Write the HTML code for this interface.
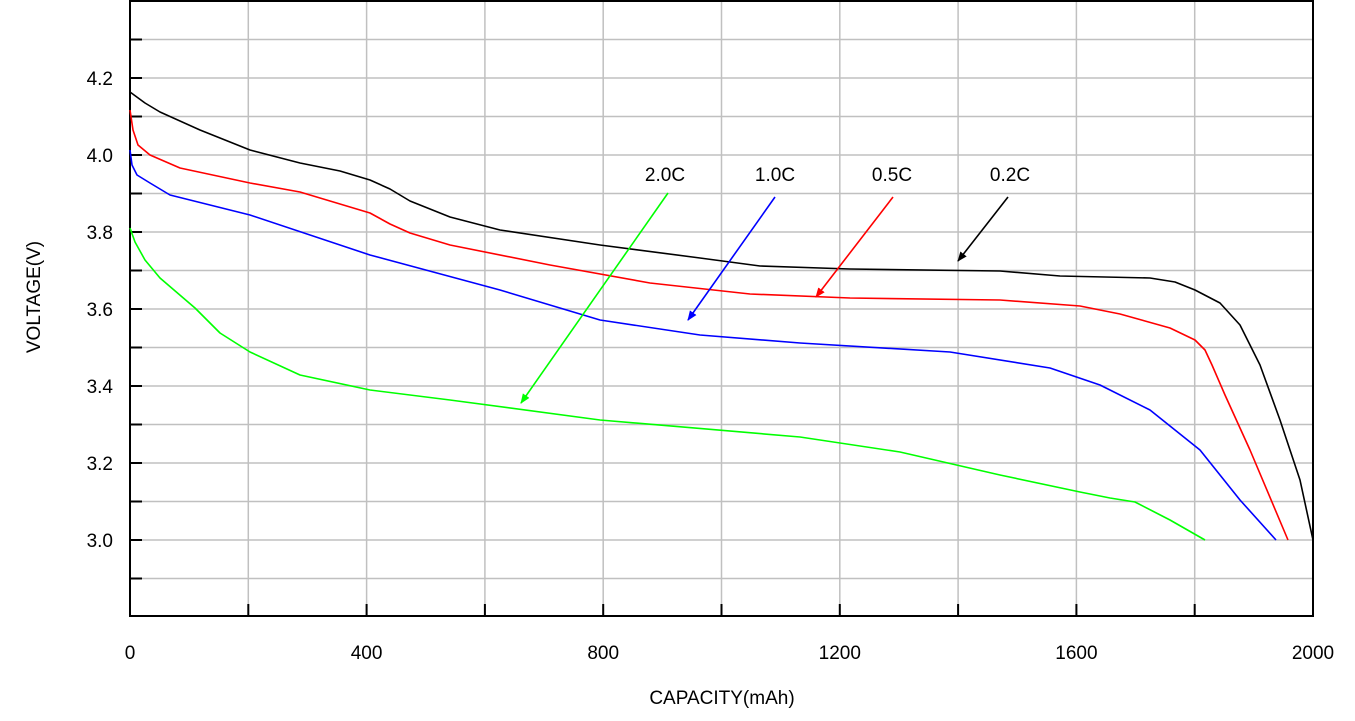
<!DOCTYPE html>
<html><head><meta charset="utf-8"><style>body{margin:0;background:#fff}svg{display:block}text{font-family:"Liberation Sans",Arial,sans-serif}</style></head><body>
<svg width="1355" height="721" xmlns="http://www.w3.org/2000/svg">
<defs>
<marker id="ak" markerWidth="10" markerHeight="10" refX="9" refY="5" orient="auto" markerUnits="userSpaceOnUse"><path d="M0,1 L10,5 L0,9 z" fill="#000"/></marker>
<marker id="ar" markerWidth="10" markerHeight="10" refX="9" refY="5" orient="auto" markerUnits="userSpaceOnUse"><path d="M0,1 L10,5 L0,9 z" fill="#f00"/></marker>
<marker id="ab" markerWidth="10" markerHeight="10" refX="9" refY="5" orient="auto" markerUnits="userSpaceOnUse"><path d="M0,1 L10,5 L0,9 z" fill="#00f"/></marker>
<marker id="ag" markerWidth="10" markerHeight="10" refX="9" refY="5" orient="auto" markerUnits="userSpaceOnUse"><path d="M0,1 L10,5 L0,9 z" fill="#0f0"/></marker>
</defs>
<g stroke="#c0c0c0" stroke-width="1.5">
<line x1="248.3" y1="1" x2="248.3" y2="616"/><line x1="366.6" y1="1" x2="366.6" y2="616"/><line x1="484.9" y1="1" x2="484.9" y2="616"/><line x1="603.2" y1="1" x2="603.2" y2="616"/><line x1="721.5" y1="1" x2="721.5" y2="616"/><line x1="839.8" y1="1" x2="839.8" y2="616"/><line x1="958.1" y1="1" x2="958.1" y2="616"/><line x1="1076.4" y1="1" x2="1076.4" y2="616"/><line x1="1194.7" y1="1" x2="1194.7" y2="616"/>
<line x1="130" y1="39.5" x2="1313" y2="39.5"/><line x1="130" y1="78" x2="1313" y2="78"/><line x1="130" y1="116.5" x2="1313" y2="116.5"/><line x1="130" y1="155" x2="1313" y2="155"/><line x1="130" y1="193.5" x2="1313" y2="193.5"/><line x1="130" y1="232" x2="1313" y2="232"/><line x1="130" y1="270.5" x2="1313" y2="270.5"/><line x1="130" y1="309" x2="1313" y2="309"/><line x1="130" y1="347.5" x2="1313" y2="347.5"/><line x1="130" y1="386" x2="1313" y2="386"/><line x1="130" y1="424.5" x2="1313" y2="424.5"/><line x1="130" y1="463" x2="1313" y2="463"/><line x1="130" y1="501.5" x2="1313" y2="501.5"/><line x1="130" y1="540" x2="1313" y2="540"/><line x1="130" y1="578.5" x2="1313" y2="578.5"/>
</g>
<rect x="130" y="1" width="1183" height="615" fill="none" stroke="#000" stroke-width="2"/>
<g stroke="#000" stroke-width="2">
<line x1="130" y1="39.5" x2="142" y2="39.5"/><line x1="130" y1="78" x2="142" y2="78"/><line x1="130" y1="116.5" x2="142" y2="116.5"/><line x1="130" y1="155" x2="142" y2="155"/><line x1="130" y1="193.5" x2="142" y2="193.5"/><line x1="130" y1="232" x2="142" y2="232"/><line x1="130" y1="270.5" x2="142" y2="270.5"/><line x1="130" y1="309" x2="142" y2="309"/><line x1="130" y1="347.5" x2="142" y2="347.5"/><line x1="130" y1="386" x2="142" y2="386"/><line x1="130" y1="424.5" x2="142" y2="424.5"/><line x1="130" y1="463" x2="142" y2="463"/><line x1="130" y1="501.5" x2="142" y2="501.5"/><line x1="130" y1="540" x2="142" y2="540"/><line x1="130" y1="578.5" x2="142" y2="578.5"/>
<line x1="248.3" y1="616" x2="248.3" y2="604"/><line x1="366.6" y1="616" x2="366.6" y2="604"/><line x1="484.9" y1="616" x2="484.9" y2="604"/><line x1="603.2" y1="616" x2="603.2" y2="604"/><line x1="721.5" y1="616" x2="721.5" y2="604"/><line x1="839.8" y1="616" x2="839.8" y2="604"/><line x1="958.1" y1="616" x2="958.1" y2="604"/><line x1="1076.4" y1="616" x2="1076.4" y2="604"/><line x1="1194.7" y1="616" x2="1194.7" y2="604"/>
</g>
<g fill="none" stroke-width="1.6" stroke-linejoin="round">
<polyline stroke="#000" points="130,92 145,103 160,112 200,130 250,150 300,163 340,171 370,180 390,189 410,201 450,217 500,230 600,245 700,258 760,266 850,269 1000,271 1060,276 1150,278 1175,282 1195,290 1220,303 1240,325 1260,365 1280,420 1300,480 1313,540"/>
<polyline stroke="#f00" points="130,110 133,130 138,145 150,155 180,168 250,183 300,192 330,201 370,213 390,224 410,233 450,245 550,265 650,283 750,294 850,298 1000,300 1080,306 1120,314 1170,328 1195,340 1205,350 1212,365 1225,395 1250,450 1288,540"/>
<polyline stroke="#00f" points="130,150 132,165 137,175 150,183 170,195 250,215 370,255 500,290 600,320 700,335 800,343 950,352 1050,368 1100,385 1150,410 1200,450 1240,500 1276,540"/>
<polyline stroke="#0f0" points="130,228 135,242 145,260 160,278 195,308 220,333 250,352 300,375 370,390 450,400 600,420 800,437 900,452 1000,475 1080,492 1110,498 1135,502 1170,520 1205,540"/>
</g>
<g stroke-width="1.6">
<line x1="1008" y1="197" x2="958" y2="261" stroke="#000" marker-end="url(#ak)"/>
<line x1="893" y1="197" x2="816" y2="297" stroke="#f00" marker-end="url(#ar)"/>
<line x1="775" y1="197" x2="688" y2="320" stroke="#00f" marker-end="url(#ab)"/>
<line x1="668" y1="193" x2="521" y2="403" stroke="#0f0" marker-end="url(#ag)"/>
</g>
<g font-size="19" text-anchor="middle">
<text x="1010" y="181">0.2C</text><text x="892" y="181">0.5C</text><text x="775" y="181">1.0C</text><text x="665" y="181">2.0C</text>
</g>
<g font-size="19" text-anchor="end">
<text x="113" y="85">4.2</text><text x="113" y="162">4.0</text><text x="113" y="239">3.8</text><text x="113" y="316">3.6</text><text x="113" y="393">3.4</text><text x="113" y="470">3.2</text><text x="113" y="547">3.0</text>
</g>
<g font-size="19" text-anchor="middle">
<text x="130" y="659">0</text><text x="366.6" y="659">400</text><text x="603.2" y="659">800</text><text x="839.8" y="659">1200</text><text x="1076.4" y="659">1600</text><text x="1313" y="659">2000</text>
<text x="722" y="704">CAPACITY(mAh)</text>
<text x="0" y="0" transform="translate(40,297) rotate(-90)">VOLTAGE(V)</text>
</g>
</svg>
</body></html>
